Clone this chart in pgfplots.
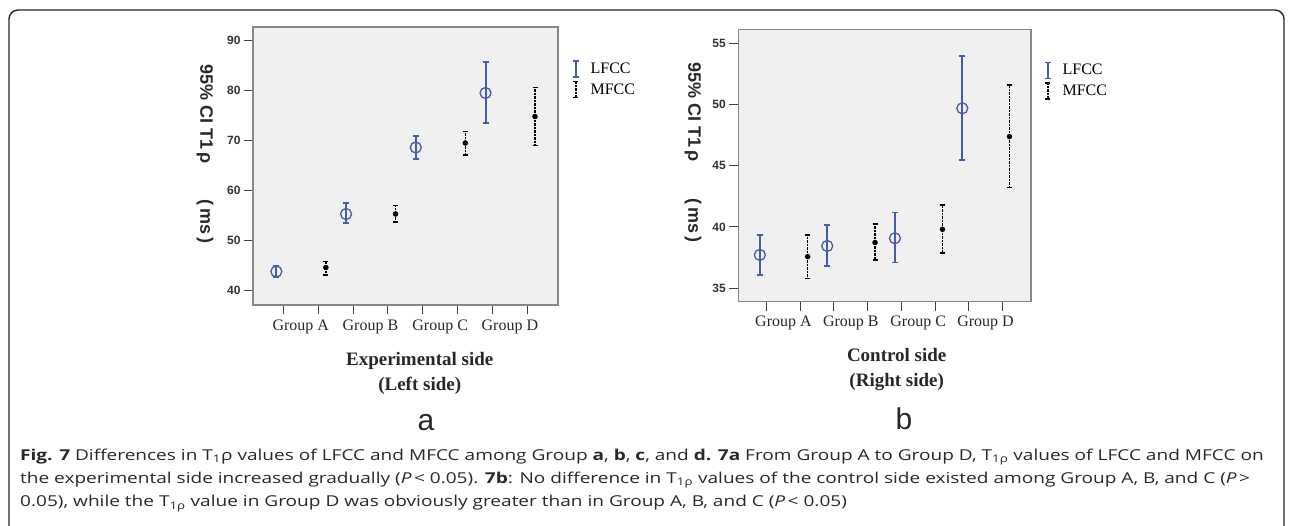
\documentclass[border=0pt]{standalone}
\usepackage{pgfplots}
\pgfplotsset{compat=1.18}
\usepackage{fontspec}
\setmainfont{Liberation Serif}
\newfontfamily\arialf{Liberation Sans}
\newfontfamily\capf[FakeStretch=1.27]{Open Sans}
\definecolor{lfcc}{RGB}{72,92,168}
\definecolor{bggray}{RGB}{240,240,240}
\definecolor{framegray}{RGB}{135,135,135}
\definecolor{txt}{RGB}{40,40,40}

\pgfplotsset{
 panel/.style={scale only axis, anchor=south west, clip=false,
   axis background/.style={fill=bggray},
   axis line style={draw=framegray, line width=1.2pt},
   xtick={0,...,7}, xticklabels={},
   extra x ticks={0.5,2.5,4.5,6.5},
   extra x tick labels={Group A,Group B,Group C,Group D},
   extra x tick style={major tick length=0pt, xticklabel style={yshift=-11pt}},
   xticklabel style={font=\fontsize{16}{17}\selectfont, text=txt},
   yticklabel style={font=\arialf\bfseries\fontsize{12}{13}\selectfont, text=black!80},
   /pgf/number format/assume math mode=true,
   tick align=outside, major tick length=9pt,
   xtick pos=bottom, ytick pos=left,
   tick style={draw=black!75, line width=1pt},
   legend style={draw=none, fill=none, at={(1,1)}, anchor=north west, font=\fontsize{16}{18}\selectfont, row sep=3pt, column sep=9pt, cells={anchor=west}},
 },
 lfccbar/.style={only marks, mark=o, mark size=5.5pt, mark options={draw=lfcc, line width=1.3pt}, forget plot,
   error bars/.cd, y dir=both, y explicit, error bar style={draw=lfcc, line width=2pt}, error mark options={rotate=90, draw=lfcc, line width=1.5pt, mark size=3pt}},
 mfccbar/.style={only marks, mark=*, mark size=2.5pt, mark options={draw=black, fill=black}, forget plot,
   error bars/.cd, y dir=both, y explicit, error bar style={draw=black, line width=1.5pt, dash pattern=on 2.5pt off 1pt}, error mark options={rotate=90, draw=black, line width=1.6pt, mark size=2.5pt}},
 lfccleg/.style={legend image code/.code={\draw[lfcc, line width=1.8pt] (3pt,-8pt)--(3pt,8pt); \draw[lfcc, line width=1.4pt] (0pt,-8pt)--(6pt,-8pt) (0pt,8pt)--(6pt,8pt);}},
 mfccleg/.style={legend image code/.code={\draw[black, line width=1.4pt, dash pattern=on 2.5pt off 1pt] (3pt,-8pt)--(3pt,8pt); \draw[black, line width=1.4pt] (0.5pt,-8pt)--(5.5pt,-8pt) (0.5pt,8pt)--(5.5pt,8pt);}},
}

\pgfplotstableread{
x y ep em
-0.2 43.8 1.1 1.1
1.8 55.3 2.2 1.8
3.8 68.6 2.3 2.3
5.8 79.5 6.2 6.0
}\leftL
\pgfplotstableread{
x y ep em
1.22 44.6 1.2 1.5
3.22 55.3 1.7 1.6
5.22 69.5 2.3 2.4
7.22 74.8 5.8 5.8
}\leftM
\pgfplotstableread{
x y ep em
-0.2 37.72 1.63 1.64
1.8 38.45 1.72 1.63
3.81 39.08 2.12 1.99
5.81 49.69 4.27 4.22
}\rightL
\pgfplotstableread{
x y ep em
1.22 37.58 1.77 1.77
3.22 38.73 1.52 1.42
5.22 39.81 1.99 1.95
7.21 47.38 4.22 4.17
}\rightM

\begin{document}
\begin{tikzpicture}[x=1pt,y=1pt]
\useasboundingbox (0,0) rectangle (1292,525);
\draw[line width=1.4pt, black!85, rounded corners=9pt] (9,-2) -- (9,515) -- (1284,515) -- (1284,-2);

\begin{axis}[panel, width=305pt, height=278pt, at={(253pt,220pt)},
  xmin=-0.87, xmax=7.88, ymin=37.1, ymax=92.7, ytick={40,50,...,90},
  legend style={xshift=11pt, yshift=-31pt}]
\addlegendimage{lfccleg}\addlegendentry{LFCC}
\addlegendimage{mfccleg}\addlegendentry{MFCC}
\addplot[lfccbar] table[x=x, y=y, y error plus=ep, y error minus=em] {\leftL};
\addplot[mfccbar] table[x=x, y=y, y error plus=ep, y error minus=em] {\leftM};
\end{axis}

\begin{axis}[panel, width=292.7pt, height=272.4pt, at={(738.3pt,223.3pt)},
  xmin=-0.84, xmax=7.85, ymin=33.9, ymax=56.14, ytick={35,40,...,55},
  legend style={xshift=10pt, yshift=-30pt}]
\addlegendimage{lfccleg}\addlegendentry{LFCC}
\addlegendimage{mfccleg}\addlegendentry{MFCC}
\addplot[lfccbar] table[x=x, y=y, y error plus=ep, y error minus=em] {\rightL};
\addplot[mfccbar] table[x=x, y=y, y error plus=ep, y error minus=em] {\rightM};
\end{axis}

\node[rotate=-90, font=\arialf\bfseries\fontsize{18}{20}\selectfont, text=txt] at (205,371) {95\% CI T1\,ρ\hspace{36pt}(\,ms\,)};
\node[rotate=-90, font=\arialf\bfseries\fontsize{18}{20}\selectfont, text=txt] at (693,372.5) {95\% CI T1\,ρ\hspace{36pt}(\,ms\,)};

\node[font=\bfseries\fontsize{19}{25}\selectfont, text=txt, align=center] at (419.7,151.7) {Experimental side\\(Left side)};
\node[font=\bfseries\fontsize{19}{25}\selectfont, text=txt, align=center] at (896.7,155.8) {Control side\\(Right side)};

\node[anchor=base, font=\arialf\fontsize{30}{30}\selectfont, text=txt] at (426,95) {a};
\node[anchor=base, font=\arialf\fontsize{30}{30}\selectfont, text=txt] at (904,95.5) {b};

\begin{scope}[every node/.style={anchor=base west, inner sep=0pt, font=\capf\fontsize{15}{17}\selectfont, text=txt}]
\node at (20,65) {\textbf{Fig. 7} Differences in T\textsubscript{1}ρ values of LFCC and MFCC among Group \textbf{a}, \textbf{b}, \textbf{c}, and \textbf{d. 7a} From Group A to Group D, T\textsubscript{1ρ} values of LFCC and MFCC on};
\node at (20,42) {the experimental side increased gradually (\textit{P}\,< 0.05). \textbf{7b}: No difference in T\textsubscript{1ρ} values of the control side existed among Group A, B, and C (\textit{P}\,>};
\node at (20,18.5) {0.05), while the T\textsubscript{1ρ} value in Group D was obviously greater than in Group A, B, and C (\textit{P}\,< 0.05)};
\end{scope}
\end{tikzpicture}
\end{document}
